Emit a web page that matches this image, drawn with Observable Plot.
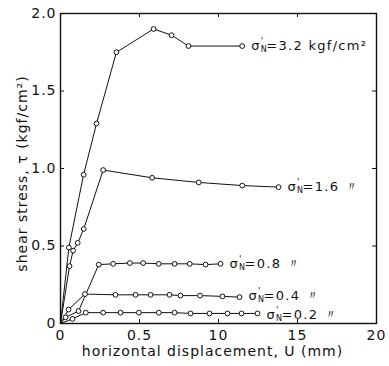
<!DOCTYPE html>
<html><head><meta charset="utf-8">
<script src="https://cdn.jsdelivr.net/npm/d3@7"></script>
<script src="https://cdn.jsdelivr.net/npm/@observablehq/plot@0.6"></script>
<style>body{margin:0;background:#fff} #chart{width:389px;height:366px}</style>
</head><body><div id="chart"></div>
<script>
// Axis ticks
const xTicks = [0, 5, 10, 15, 20];
const xTickLabels = ["0", "0.5", "10", "15", "20"];
const yTicks = [0, 0.5, 1, 1.5, 2];
const yTickLabels = ["0", "0.5", "1.0", "1.5", "2.0"];

// Series (horizontal displacement mm, shear stress kgf/cm2)
const s32x = [0, 0.53, 1.46, 2.28, 3.54, 5.89, 7.03, 8.1, 11.5];
const s32y = [0, 0.49, 0.96, 1.29, 1.75, 1.90, 1.86, 1.79, 1.79];
const s16x = [0, 0.57, 0.80, 1.09, 1.47, 2.70, 5.80, 8.75, 11.5, 13.8];
const s16y = [0, 0.37, 0.47, 0.52, 0.61, 0.99, 0.94, 0.91, 0.89, 0.88];
const s08x = [0, 0.32, 1.14, 2.42, 3.33, 4.39, 5.23, 6.22, 7.22, 8.18, 9.18, 10.13];
const s08y = [0, 0.04, 0.08, 0.38, 0.385, 0.39, 0.39, 0.385, 0.385, 0.385, 0.38, 0.385];
const s04x = [0, 0.51, 1.55, 3.48, 4.75, 5.70, 6.90, 7.59, 8.83, 10.25, 11.33];
const s04y = [0, 0.09, 0.19, 0.185, 0.185, 0.185, 0.185, 0.18, 0.18, 0.175, 0.17];
const s02x = [0, 0.76, 1.60, 2.70, 3.80, 4.96, 6.22, 7.22, 8.23, 9.43, 10.57, 11.46, 12.47];
const s02y = [0, 0.03, 0.07, 0.07, 0.07, 0.07, 0.07, 0.07, 0.065, 0.065, 0.065, 0.065, 0.065];

const seriesNames = ["3.2", "1.6", "0.8", "0.4", "0.2"];
const seriesLabels = ["=3.2 kgf/cm²", "=1.6 〃", "=0.8 〃", "=0.4 〃", "=0.2 〃"];
const seriesX = [s32x, s16x, s08x, s04x, s02x];
const seriesY = [s32y, s16y, s08y, s04y, s02y];

const xTitle = "horizontal displacement, U (mm)";
const yTitle = "shear stress, τ (kgf/cm²)";

const W = 389, H = 366, mL = 60, mR = 13, mT = 13, mB = 43;
const pw = W - mL - mR, ph = H - mT - mB;

const rows = [];
seriesNames.forEach((n, k) => seriesX[k].forEach((x, i) => rows.push({series: n, x, y: seriesY[k][i]})));
const ends = seriesNames.map((n, k) => ({
  label: seriesLabels[k],
  x: seriesX[k][seriesX[k].length - 1],
  y: seriesY[k][seriesY[k].length - 1],
  nudge: n === "0.4" ? -1.5 : n === "0.2" ? 1.5 : 0
}));

const ink = "#111";
const plot = Plot.plot({
  width: W, height: H,
  marginLeft: mL, marginRight: mR, marginTop: mT, marginBottom: mB,
  x: {domain: [0, 20]},
  y: {domain: [0, 2]},
  style: {fontFamily: "DejaVu Sans", fontSize: "14px", color: ink, background: "#fff", letterSpacing: "1px"},
  marks: [
    Plot.ruleX(xTicks.slice(1, -1), {x: d => d, insetTop: ph - 4, stroke: ink, strokeWidth: 1}),
    Plot.ruleX(xTicks.slice(1, -1), {x: d => d, insetBottom: ph - 4, stroke: ink, strokeWidth: 1}),
    Plot.ruleY(yTicks.slice(1, -1), {y: d => d, insetRight: pw - 4, stroke: ink, strokeWidth: 1}),
    Plot.ruleY(yTicks.slice(1, -1), {y: d => d, insetLeft: pw - 4, stroke: ink, strokeWidth: 1}),
    Plot.frame({stroke: ink, strokeWidth: 1.4}),
    Plot.axisX(xTicks, {tickSize: 0, tickPadding: 7, label: null, fontSize: 14,
      tickFormat: d => xTickLabels[xTicks.indexOf(d)]}),
    Plot.axisY(yTicks, {tickSize: 0, tickPadding: 4, label: null, fontSize: 14,
      tickFormat: d => yTickLabels[yTicks.indexOf(d)]}),
    Plot.text([xTitle], {frameAnchor: "bottom", dy: 32, dx: -6, fontSize: 14, textAnchor: "middle"}),
    Plot.text([yTitle], {frameAnchor: "left", rotate: -90, dx: -38, dy: 5, fontSize: 14, textAnchor: "middle"}),
    Plot.line(rows, {x: "x", y: "y", z: "series", stroke: ink, strokeWidth: 1}),
    Plot.dot(rows.filter(d => d.x > 0), {x: "x", y: "y", r: 2.4, fill: "white", stroke: ink, strokeWidth: 1}),
    Plot.text(ends, {x: "x", y: "y", text: "label", textAnchor: "start", dx: 9, fontSize: 13})
  ]
});

const svg = d3.select(plot);
svg.selectAll("text").each(function() {
  const t = d3.select(this);
  const rest = t.text();
  if (!rest.startsWith("=")) return;
  const e = ends.find(o => o.label === rest);
  if (e && e.nudge) t.attr("transform", (t.attr("transform") || "") + ` translate(0,${e.nudge})`);
  t.attr("letter-spacing", 1.3);
  t.text("");
  t.append("tspan").text("σ");
  t.append("tspan").attr("font-size", 8).attr("dy", 2).attr("letter-spacing", 0).text("N");
  t.append("tspan").attr("font-size", 9).attr("dx", -6).attr("dy", -8).attr("letter-spacing", 0).text("'");
  t.append("tspan").attr("dx", 3).attr("dy", 6).text(rest);
});

document.getElementById("chart").append(plot);
</script>
</body></html>
